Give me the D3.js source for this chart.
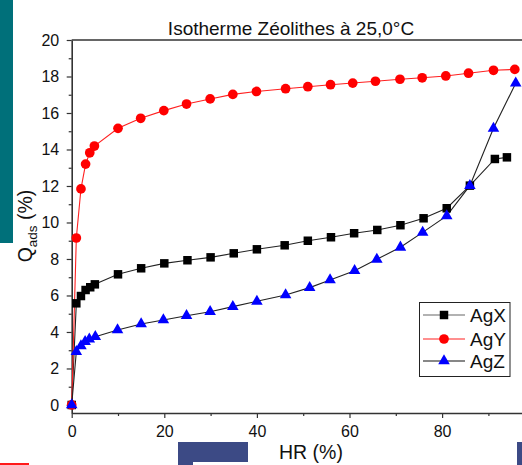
<!DOCTYPE html>
<html>
<head>
<meta charset="utf-8">
<script src="https://cdn.jsdelivr.net/npm/d3@7/dist/d3.min.js"></script>
<style>
  html, body { margin: 0; padding: 0; background: #fff; overflow: hidden; }
  svg { display: block; font-family: "Liberation Sans", Arial, sans-serif; }
</style>
</head>
<body>
<svg id="chart" width="522" height="465"></svg>
<script>
// Relative humidity (%) and adsorbed quantity (%) for each zeolite
const hrX = [0, 1, 2, 3, 4, 5, 10, 15, 20, 25, 30, 35, 40, 46, 51, 56, 61, 66, 71, 76, 81, 86, 91.4, 94];
const agX = [0, 5.57, 5.97, 6.3, 6.45, 6.61, 7.16, 7.49, 7.76, 7.93, 8.09, 8.31, 8.53, 8.75, 9.0, 9.19, 9.41, 9.59, 9.85, 10.23, 10.78, 12.02, 13.48, 13.57];

const hrY = [0, 1, 2, 3, 3.9, 4.9, 10, 14.9, 19.9, 24.8, 29.9, 34.8, 39.9, 46.2, 51, 55.9, 60.7, 65.6, 70.9, 75.7, 80.8, 85.7, 91.1, 95.7];
const agY = [0, 9.15, 11.84, 13.2, 13.82, 14.19, 15.16, 15.71, 16.13, 16.49, 16.77, 17.02, 17.18, 17.33, 17.44, 17.55, 17.64, 17.74, 17.85, 17.93, 18.03, 18.18, 18.34, 18.39];

const hrZ = [0, 1, 2, 2.9, 3.8, 5.1, 9.9, 15, 19.8, 24.8, 29.9, 34.8, 40, 46.2, 51.4, 55.8, 61.1, 65.9, 71, 75.8, 81, 86, 91.1, 95.9];
const agZ = [0, 2.92, 3.23, 3.47, 3.6, 3.74, 4.11, 4.44, 4.66, 4.89, 5.11, 5.39, 5.68, 6.03, 6.43, 6.85, 7.36, 7.98, 8.64, 9.46, 10.36, 12.02, 15.16, 17.63];

const xTicks = [0, 20, 40, 60, 80];
const xMinorTicks = [10, 30, 50, 70, 90];
const yTicks = [0, 2, 4, 6, 8, 10, 12, 14, 16, 18, 20];
const yMinorTicks = [1, 3, 5, 7, 9, 11, 13, 15, 17, 19];

const seriesNames = ["AgX", "AgY", "AgZ"];

const svg = d3.select("#chart");

// Side and bottom page decorations
svg.append("rect").attr("x", 0).attr("y", 0).attr("width", 13).attr("height", 243).attr("fill", "#00707a");
svg.append("rect").attr("x", 178).attr("y", 442).attr("width", 70).attr("height", 20).attr("fill", "#3c4a85");
svg.append("rect").attr("x", 178).attr("y", 462).attr("width", 15).attr("height", 3).attr("fill", "#3c4a85");
svg.append("rect").attr("x", 517).attr("y", 442).attr("width", 5).attr("height", 23).attr("fill", "#3c4a85");
svg.append("rect").attr("x", 0).attr("y", 463).attr("width", 29).attr("height", 2).attr("fill", "#ff1a1a");

const x = d3.scaleLinear().domain([0, 100]).range([71.7, 534.7]);
const y = d3.scaleLinear().domain([-0.44, 20]).range([413, 40]);

// Frame: top line
svg.append("line").attr("x1", x(0)).attr("x2", 522).attr("y1", y(20)).attr("y2", y(20))
  .attr("stroke", "#333").attr("stroke-width", 1.6);

// Bottom axis
svg.append("g").attr("transform", `translate(0,${y.range()[0]})`)
  .call(d3.axisBottom(x).tickValues(xTicks).tickFormat(d3.format("d")).tickSize(5).tickSizeOuter(0).tickPadding(7.5));
svg.append("g").attr("transform", `translate(0,${y.range()[0]})`)
  .call(d3.axisBottom(x).tickValues(xMinorTicks).tickFormat("").tickSize(3).tickSizeOuter(0))
  .select(".domain").remove();

// Left axis
svg.append("g").attr("transform", `translate(${x(0)},0)`)
  .call(d3.axisLeft(y).tickValues(yTicks).tickFormat(d3.format("d")).tickSize(5).tickSizeOuter(0).tickPadding(7.5));
svg.append("g").attr("transform", `translate(${x(0)},0)`)
  .call(d3.axisLeft(y).tickValues(yMinorTicks).tickFormat("").tickSize(3).tickSizeOuter(0))
  .select(".domain").remove();

svg.selectAll(".domain").attr("stroke", "#333").attr("stroke-width", 1.6);
svg.selectAll(".tick line").attr("stroke", "#333").attr("stroke-width", 1.2);
svg.selectAll(".tick text").attr("font-size", 16).attr("fill", "#111")
  .attr("font-family", "Liberation Sans, Arial, sans-serif");

// Titles
svg.append("text").attr("x", 291).attr("y", 35).attr("text-anchor", "middle")
  .attr("font-size", 19).attr("fill", "#111").text("Isotherme Zéolithes à 25,0°C");
svg.append("text").attr("x", 311).attr("y", 459).attr("text-anchor", "middle")
  .attr("font-size", 19.5).attr("fill", "#111").text("HR (%)");
const yl = svg.append("text").attr("transform", "translate(32,226) rotate(-90)")
  .attr("text-anchor", "middle").attr("font-size", 19.5).attr("fill", "#111");
yl.append("tspan").text("Q");
yl.append("tspan").attr("font-size", 13.5).attr("dy", 4.5).text("ads");
yl.append("tspan").attr("dy", -4.5).text(" (%)");

// Series
const line = d3.line().x(d => x(d[0])).y(d => y(d[1]));
const series = [
  { name: seriesNames[0], pts: d3.zip(hrX, agX), stroke: "#222", fill: "#000", shape: d3.symbolSquare, size: 72 },
  { name: seriesNames[1], pts: d3.zip(hrY, agY), stroke: "#ff2020", fill: "#ff0000", shape: d3.symbolCircle, size: 74 },
  { name: seriesNames[2], pts: d3.zip(hrZ, agZ), stroke: "#222", fill: "#0000ff", shape: d3.symbolTriangle, size: 58 }
];

series.forEach(s => {
  svg.append("path").datum(s.pts).attr("d", line).attr("fill", "none")
    .attr("stroke", s.stroke).attr("stroke-width", 1.1);
});
series.forEach(s => {
  svg.append("g").selectAll("path").data(s.pts).join("path")
    .attr("transform", d => `translate(${x(d[0])},${y(d[1])})`)
    .attr("d", d3.symbol().type(s.shape).size(s.size))
    .attr("fill", s.fill);
});

// Legend
const lg = svg.append("g");
lg.append("rect").attr("x", 419.5).attr("y", 302.5).attr("width", 90.5).attr("height", 74)
  .attr("fill", "#fff").attr("stroke", "#222").attr("stroke-width", 1);
const legendY = [315, 339, 361];
series.forEach((s, i) => {
  const ly = legendY[i];
  lg.append("line").attr("x1", 423).attr("x2", 465).attr("y1", ly).attr("y2", ly)
    .attr("stroke", i === 0 ? "#666" : (i === 1 ? "#ff2020" : "#111")).attr("stroke-width", 1.1);
  lg.append("path").attr("transform", `translate(444,${ly})`)
    .attr("d", d3.symbol().type(s.shape).size(s.size)).attr("fill", s.fill);
  lg.append("text").attr("x", 470).attr("y", ly + 7).attr("font-size", 19).attr("fill", "#111").text(s.name);
});
</script>
</body>
</html>
